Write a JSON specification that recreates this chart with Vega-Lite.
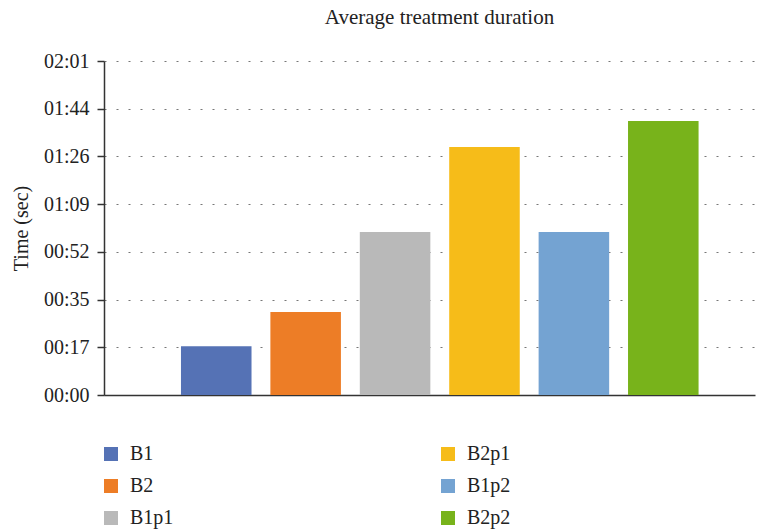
{
  "$schema": "https://vega.github.io/schema/vega-lite/v6.json",
  "width": 651,
  "height": 334,
  "autosize": {"type": "none"},
  "padding": {"left": 104, "top": 61, "right": 9, "bottom": 136},
  "background": "white",
  "title": {
    "text": "Average treatment duration",
    "font": "Liberation Serif",
    "fontSize": 21,
    "fontWeight": "normal",
    "color": "#222222",
    "anchor": "middle",
    "dx": 10,
    "offset": 23
  },
  "data": {
    "values": [
      {"group": "B1", "seconds": 17.7},
      {"group": "B2", "seconds": 30.1},
      {"group": "B1p1", "seconds": 59.0},
      {"group": "B2p1", "seconds": 89.8},
      {"group": "B1p2", "seconds": 59.0},
      {"group": "B2p2", "seconds": 99.2}
    ]
  },
  "mark": {"type": "bar"},
  "encoding": {
    "x": {
      "field": "group",
      "type": "nominal",
      "sort": ["B1", "B2", "B1p1", "B2p1", "B1p2", "B2p2"],
      "scale": {"paddingInner": 0.211, "paddingOuter": 0.746, "align": 0.577},
      "axis": {
        "title": null,
        "labels": false,
        "ticks": false,
        "domainColor": "#333333",
        "domainWidth": 1.5
      }
    },
    "y": {
      "field": "seconds",
      "type": "quantitative",
      "scale": {"domain": [0, 120.96], "nice": false, "zero": true},
      "axis": {
        "title": "Time (sec)",
        "titleFont": "Liberation Serif",
        "titleFontSize": 20,
        "titleFontWeight": "normal",
        "titleColor": "#222222",
        "titlePadding": 12,
        "values": [0, 17.28, 34.56, 51.84, 69.12, 86.4, 103.68, 120.96],
        "labelExpr": "utcFormat(round(datum.value) * 1000, '%M:%S')",
        "labelFont": "Liberation Serif",
        "labelFontSize": 20,
        "labelColor": "#222222",
        "labelPadding": 8,
        "tickSize": 7,
        "tickColor": "#333333",
        "tickWidth": 1.5,
        "domainColor": "#333333",
        "domainWidth": 1.5,
        "grid": true,
        "gridColor": "#777777",
        "gridDash": [2, 10],
        "gridWidth": 1.2
      }
    },
    "color": {
      "field": "group",
      "type": "nominal",
      "scale": {
        "domain": ["B1", "B2", "B1p1", "B2p1", "B1p2", "B2p2"],
        "range": ["#5572b5", "#ed7d26", "#b9b9b9", "#f6bc19", "#74a3d2", "#78b31b"]
      },
      "legend": {
        "title": null,
        "orient": "none",
        "legendX": -3,
        "legendY": 383,
        "columns": 2,
        "columnPadding": 264,
        "rowPadding": 12,
        "gridAlign": "all",
        "padding": 0,
        "symbolType": "square",
        "symbolSize": 196,
        "symbolStrokeWidth": 0,
        "labelFont": "Liberation Serif",
        "labelFontSize": 20,
        "labelColor": "#222222",
        "labelOffset": 9
      }
    }
  },
  "config": {
    "view": {"stroke": null}
  }
}
